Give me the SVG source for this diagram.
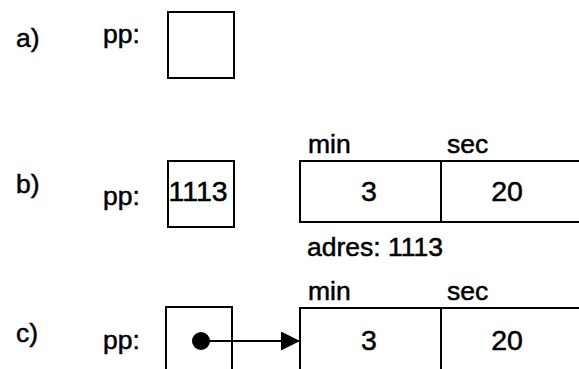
<svg xmlns="http://www.w3.org/2000/svg" width="579" height="369" viewBox="0 0 579 369">
<style>
text{font-family:"Liberation Sans",Arial,sans-serif;font-size:26.5px;fill:#000;stroke:#000;stroke-width:0.5}
.box{fill:#fff;stroke:#000;stroke-width:2}
.ln{stroke:#000;stroke-width:2;fill:none}
.big{font-size:28.5px}
.mid{text-anchor:middle}
</style>
<defs>
<marker id="ah" markerWidth="19" markerHeight="19" refX="19" refY="9.5" orient="auto" markerUnits="userSpaceOnUse">
<path d="M0,0 L19,9.5 L0,19 Z" fill="#000"/>
</marker>
</defs>
<rect width="579" height="369" fill="#fff"/>
<g id="label-a"><text x="16" y="47">a)</text><text x="103" y="43">pp:</text></g>
<g id="pp-a"><rect class="box" x="168" y="12" width="66" height="66"/></g>
<g id="label-b"><text x="16" y="193">b)</text><text x="103" y="205">pp:</text></g>
<g id="pp-b"><rect class="box" x="168" y="161" width="66" height="66"/><text class="big" x="168.5" y="201">1113</text></g>
<g id="struct-b">
<text x="308" y="153">min</text><text x="447" y="153">sec</text>
<rect class="box" x="300" y="161" width="290" height="61"/>
<line class="ln" x1="441" y1="161" x2="441" y2="222"/>
<text class="big mid" x="369" y="201">3</text><text class="big mid" x="507" y="201">20</text>
<text x="307" y="256">adres: 1113</text>
</g>
<g id="label-c"><text x="16" y="342">c)</text><text x="103" y="349">pp:</text></g>
<g id="pp-c"><rect class="box" x="166" y="307" width="66" height="80"/><circle cx="201" cy="341" r="9" fill="#000"/></g>
<g id="struct-c">
<text x="308" y="300">min</text><text x="447" y="300">sec</text>
<rect class="box" x="300" y="308" width="290" height="80"/>
<line class="ln" x1="441" y1="308" x2="441" y2="369"/>
<text class="big mid" x="369" y="350">3</text><text class="big mid" x="507" y="350">20</text>
</g>
<g id="connectors"><line class="ln" x1="201" y1="341" x2="300" y2="341" marker-end="url(#ah)"/></g>
</svg>
